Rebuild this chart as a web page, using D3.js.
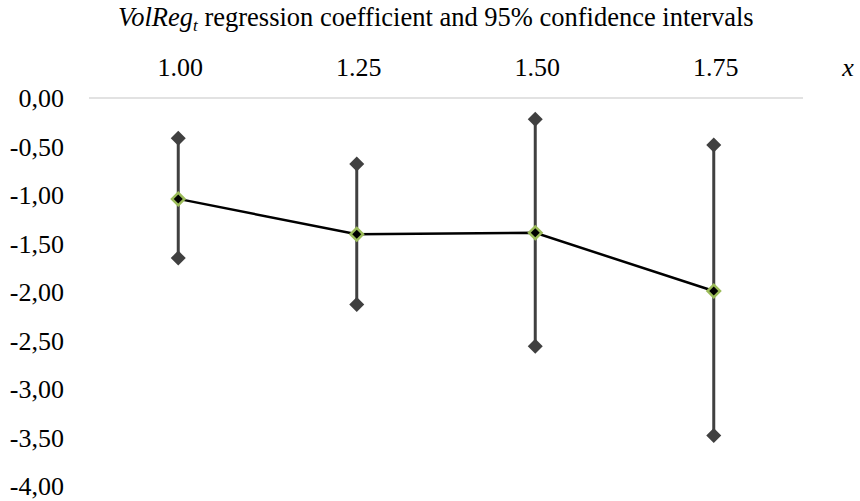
<!DOCTYPE html>
<html>
<head>
<meta charset="utf-8">
<script src="https://cdn.jsdelivr.net/npm/d3@7/dist/d3.min.js"></script>
<style>
  html, body { margin: 0; padding: 0; background: #fff; }
  svg { display: block; }
  svg text { font-family: "Liberation Serif", "DejaVu Serif", serif !important; fill: #000; }
</style>
</head>
<body>
<svg id="chart" width="860" height="501"></svg>
<script>
// Regression coefficient per threshold x, with 95% confidence bounds
const categories = ["1.00", "1.25", "1.50", "1.75"];
const coefficient = [-1.04, -1.405, -1.39, -1.99];
const upperBound = [-0.415, -0.68, -0.22, -0.485];
const lowerBound = [-1.65, -2.13, -2.56, -3.48];
const yTicks = [0, -0.5, -1, -1.5, -2, -2.5, -3, -3.5, -4];

const svg = d3.select("#chart");
const plot = { left: 89, right: 803, top: 98, bottom: 486 };

const x = d3.scaleBand().domain(categories).range([plot.left, plot.right]).paddingInner(0).paddingOuter(0);
const y = d3.scaleLinear().domain([-4, 0]).range([plot.bottom, plot.top]);
const cx = c => x(c) + x.bandwidth() / 2;

const fmt = v => d3.format(".2f")(v).replace(".", ",").replace("−", "-");

// Title
const title = svg.append("text").attr("x", 118).attr("y", 26).attr("font-size", 26.5);
title.append("tspan").attr("font-style", "italic").text("VolReg");
title.append("tspan").attr("font-style", "italic").attr("font-size", 17).attr("dy", 5).text("t");
title.append("tspan").attr("dy", -5).text(" regression coefficient and 95% confidence intervals");

// Zero gridline (category axis sits at the top)
svg.append("line")
  .attr("x1", plot.left).attr("x2", plot.right)
  .attr("y1", y(0)).attr("y2", y(0))
  .attr("stroke", "#d9d9d9").attr("stroke-width", 1.5);

// Category labels above the plot
const xAxis = d3.axisTop(x).tickSize(0).tickPadding(0);
const gx = svg.append("g").attr("transform", `translate(0,76)`).call(xAxis);
gx.select(".domain").remove();
gx.selectAll("text")
  .attr("font-size", 26)
  .attr("fill", "#000").attr("dy", 0).attr("dx", 2);

svg.append("text").attr("x", 848).attr("y", 76).attr("text-anchor", "middle")
  .attr("font-size", 26).attr("font-style", "italic").text("x");

// Value axis labels on the left
const yAxis = d3.axisLeft(y).tickValues(yTicks).tickFormat(fmt).tickSize(0).tickPadding(0);
const gy = svg.append("g").attr("transform", `translate(64,0)`).call(yAxis);
gy.select(".domain").remove();
gy.selectAll("text")
  .attr("font-size", 26)
  .attr("fill", "#000").attr("dy", "0.33em");

const data = categories.map((c, i) => ({ c, v: coefficient[i], hi: upperBound[i], lo: lowerBound[i] }));

const diamond = (px, py, r) => `M${px},${py - r}L${px + r},${py}L${px},${py + r}L${px - r},${py}Z`;

// Confidence interval bars
const ci = svg.append("g");
ci.selectAll("line").data(data).join("line")
  .attr("x1", d => cx(d.c)).attr("x2", d => cx(d.c))
  .attr("y1", d => y(d.hi)).attr("y2", d => y(d.lo))
  .attr("stroke", "#404040").attr("stroke-width", 3);
ci.selectAll("path.hi").data(data).join("path").attr("class", "hi")
  .attr("d", d => diamond(cx(d.c), y(d.hi), 7.5)).attr("fill", "#404040");
ci.selectAll("path.lo").data(data).join("path").attr("class", "lo")
  .attr("d", d => diamond(cx(d.c), y(d.lo), 7.5)).attr("fill", "#404040");

// Coefficient line
svg.append("path").datum(data)
  .attr("d", d3.line().x(d => cx(d.c)).y(d => y(d.v)))
  .attr("fill", "none").attr("stroke", "#000").attr("stroke-width", 2.5);

// Coefficient markers
const pts = svg.append("g");
pts.selectAll("path.outer").data(data).join("path").attr("class", "outer")
  .attr("d", d => diamond(cx(d.c), y(d.v), 8)).attr("fill", "#9bbb59");
pts.selectAll("path.inner").data(data).join("path").attr("class", "inner")
  .attr("d", d => diamond(cx(d.c), y(d.v), 4.5)).attr("fill", "#000");
</script>
</body>
</html>
